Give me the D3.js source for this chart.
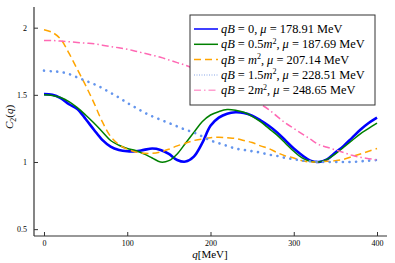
<!DOCTYPE html>
<html><head><meta charset="utf-8">
<script src="https://cdn.jsdelivr.net/npm/d3@7"></script>
<style>body{margin:0;background:#fff}svg{display:block}text{font-family:"Liberation Serif","DejaVu Serif",serif;fill:#000}</style>
</head><body><svg id="c" width="395" height="263"></svg>
<script>
const qValues = d3.range(0, 401, 10);
const seriesLabels = [
  ["0", "178.91"], ["0.5m²", "187.69"], ["m²", "207.14"], ["1.5m²", "228.51"], ["2m²", "248.65"]
];
const c2_qB0 = [1.505,1.50,1.475,1.43,1.395,1.32,1.24,1.165,1.115,1.09,1.08,1.08,1.09,1.10,1.09,1.06,1.015,1.003,1.04,1.14,1.27,1.33,1.36,1.37,1.365,1.345,1.31,1.27,1.22,1.16,1.10,1.05,1.01,1.00,1.02,1.07,1.12,1.18,1.24,1.29,1.33];
const c2_qB05 = [1.50,1.495,1.48,1.45,1.405,1.35,1.29,1.225,1.16,1.125,1.10,1.085,1.06,1.03,1.00,1.01,1.06,1.14,1.22,1.30,1.35,1.375,1.39,1.385,1.37,1.34,1.30,1.25,1.20,1.14,1.08,1.03,1.005,1.00,1.02,1.06,1.11,1.16,1.21,1.25,1.29];
const c2_qB1 = [1.985,1.965,1.915,1.81,1.69,1.57,1.44,1.30,1.19,1.13,1.095,1.075,1.065,1.065,1.075,1.095,1.12,1.14,1.16,1.17,1.18,1.185,1.18,1.175,1.16,1.145,1.12,1.10,1.07,1.045,1.03,1.01,1.00,1.00,1.005,1.01,1.02,1.04,1.06,1.08,1.10];
const c2_qB15 = [1.68,1.675,1.67,1.655,1.63,1.605,1.58,1.55,1.515,1.48,1.44,1.405,1.37,1.34,1.315,1.29,1.265,1.24,1.22,1.19,1.16,1.14,1.12,1.10,1.09,1.08,1.07,1.055,1.045,1.03,1.02,1.01,1.005,1.00,1.00,1.00,1.00,1.00,1.005,1.01,1.015];
const c2_qB2 = [1.905,1.905,1.90,1.895,1.89,1.885,1.88,1.87,1.86,1.85,1.84,1.825,1.81,1.795,1.78,1.76,1.74,1.72,1.695,1.67,1.64,1.61,1.58,1.54,1.50,1.46,1.43,1.39,1.34,1.29,1.25,1.21,1.17,1.13,1.11,1.09,1.07,1.05,1.035,1.025,1.015];
const xTicks = [0,100,200,300,400];
const yTicks = [0.5,1,1.5,2];

const styles = [
  {color:"#0000ff", w:2.6, dash:null, cap:"butt"},
  {color:"#008000", w:1.5, dash:null, cap:"butt"},
  {color:"#ffa500", w:1.5, dash:"7,4", cap:"butt"},
  {color:"#6495ed", w:2.6, dash:"0.1,6.5", cap:"round"},
  {color:"#ff69b4", w:1.5, dash:"7,3,1.5,3", cap:"butt"}
];
const allSeries = [c2_qB0, c2_qB05, c2_qB1, c2_qB15, c2_qB2];

const svg = d3.select("#c");
const L = 34, R = 387, T = 7, B = 236;
const x = d3.scaleLinear().domain([-12, 412]).range([L, R]);
const y = d3.scaleLinear().domain([0.449, 2.154]).range([B, T]);

const line = d3.line().x((d,i)=>x(qValues[i])).y(d=>y(d)).curve(d3.curveCatmullRom.alpha(0.5));
allSeries.forEach((s,i)=>{
  const st = styles[i];
  svg.append("path").attr("d", line(s)).attr("fill","none")
    .attr("stroke", st.color).attr("stroke-width", st.w)
    .attr("stroke-dasharray", st.dash).attr("stroke-linecap", st.cap)
    .attr("stroke-linejoin","round");
});

// axes
const xAxis = svg.append("g").attr("transform",`translate(0,${B})`)
  .call(d3.axisBottom(x).tickValues(xTicks).tickSize(-4).tickPadding(4).tickFormat(d3.format("d")));
const yAxis = svg.append("g").attr("transform",`translate(${L},0)`)
  .call(d3.axisLeft(y).tickValues(yTicks).tickSize(-4).tickPadding(7).tickFormat(d=>String(d)));
[xAxis,yAxis].forEach(g=>{
  g.select(".domain").attr("stroke","#333").attr("stroke-width",1.2);
  g.selectAll(".tick line").attr("stroke","#333").attr("stroke-width",1);
  g.selectAll(".tick text").attr("font-size",8).attr("fill","#222").style("font-family","'Liberation Serif',serif");
});
xAxis.select(".domain").attr("d",`M${L},0H${R}`);
yAxis.select(".domain").attr("d",`M0,${T}V${B}`);

// axis labels
const xl = svg.append("text").attr("x",210).attr("y",258).attr("text-anchor","middle").attr("font-size",11);
xl.append("tspan").attr("font-style","italic").text("q");
xl.append("tspan").text("[MeV]");
const yl = svg.append("text").attr("transform","translate(13,117) rotate(-90)").attr("text-anchor","middle").attr("font-size",11);
yl.append("tspan").attr("font-style","italic").text("C");
yl.append("tspan").attr("font-size",8).attr("dy",3).text("2");
yl.append("tspan").attr("dy",-3).text("(");
yl.append("tspan").attr("font-style","italic").text("q");
yl.append("tspan").text(")");

// legend
const lg = svg.append("g");
lg.append("rect").attr("x",190).attr("y",15).attr("width",185).attr("height",90)
  .attr("fill","#fff").attr("stroke","#333").attr("stroke-width",1);
seriesLabels.forEach((lab,i)=>{
  const yy = 29 + i*15.3;
  const st = styles[i];
  lg.append("line").attr("x1",194).attr("x2",218).attr("y1",yy).attr("y2",yy)
    .attr("stroke", i===3 ? "#b0c4f0" : (i===4 ? "#ff9fd0" : st.color))
    .attr("stroke-width", 1.5)
    .attr("stroke-dasharray", i===3 ? "1,1.5" : st.dash);
  const t = lg.append("text").attr("x",221).attr("y",yy+4).attr("font-size",12.4);
  t.append("tspan").attr("font-style","italic").text("qB");
  t.append("tspan").text(" = ");
  const coef = lab[0];
  if (coef.includes("m")) {
    const num = coef.replace("m²","");
    if (num) t.append("tspan").text(num);
    t.append("tspan").attr("font-style","italic").text("m");
    t.append("tspan").attr("font-size",8).attr("dy",-4.5).text("2");
    t.append("tspan").attr("dy",4.5).text(", ");
  } else {
    t.append("tspan").text(coef + ", ");
  }
  t.append("tspan").attr("font-style","italic").text("μ");
  t.append("tspan").text(" = " + lab[1] + " MeV");
});
</script></body></html>
